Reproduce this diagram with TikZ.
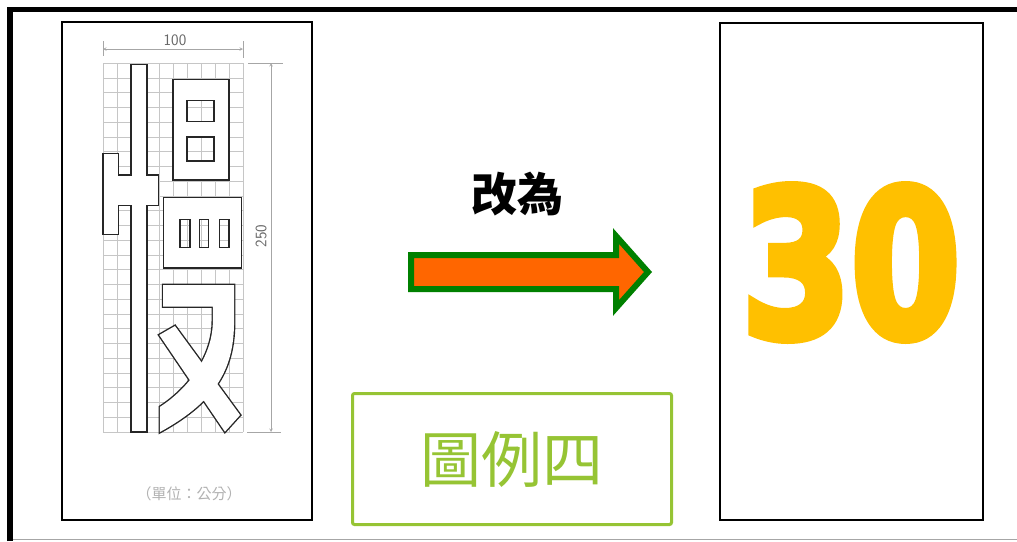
\documentclass[tikz,border=0pt]{standalone}
\usepackage{fontspec}
\usepackage{graphicx}
\newfontfamily\cjk{Noto Sans CJK TC}
\newfontfamily\numfont{DejaVu Sans Bold}[FakeBold=5]
\definecolor{arroworange}{HTML}{FF6600}
\definecolor{arrowgreen}{HTML}{008000}
\definecolor{legendgreen}{RGB}{150,196,52}
\definecolor{speedgold}{HTML}{FFC000}
% strokes of the lower part of the glyph, in grid units
\newcommand{\zhepath}{(4.3,15.05) -- (9.36,15.05) -- (9.36,17.5)
  .. controls (9.36,20.5) and (8.3,22.8) .. (4.07,25) -- (4.07,23.3)
  .. controls (6.5,21.8) and (7.85,19.5) .. (7.85,17.5) -- (7.85,16.5) -- (4.3,16.5) -- cycle}
\newcommand{\napath}{(4.02,18.43) -- (5.14,17.82) -- (9.79,23.85) -- (8.71,24.98) -- cycle}

\begin{document}
\begin{tikzpicture}[>=stealth, x=1pt, y=-1pt,
    gridline/.style={gray!45, line width=0.5pt},
    glyph/.style={draw=black!85, fill=white, line width=1.4pt, line join=miter},
    dimline/.style={gray!70, line width=0.6pt},
    dimlabel/.style={text=gray!80!black, inner sep=0pt, font=\sffamily\fontsize{16}{16}\selectfont}]
  \useasboundingbox (0,0) rectangle (1017,541);
  % outer frame
  \draw[line width=5.5pt] (10,541) -- (10,9.5) -- (1017,9.5);
  \draw[gray!70, line width=1.2pt] (13,539.5) -- (1017,539.5);
  % panels
  \draw[line width=1.5pt] (62,22) rectangle (312,520);
  \draw[line width=1.5pt] (720,23) rectangle (983,520);

  % grid and glyph
  \begin{scope}[shift={(103,63)}, x=14pt, y=-14.76pt]
    \foreach \c in {0,...,10}
      \draw[gridline] (\c,0) -- (\c,25);
    \foreach \r in {0,...,25}
      \draw[gridline] (0,\r) -- (10,\r);
    \filldraw[glyph] (2,0.1) -- (3.15,0.1) -- (3.15,7.6) -- (3.95,7.6) -- (3.95,9.67)
      -- (3.15,9.67) -- (3.15,25) -- (2,25) -- (2,9.67) -- (1.1,9.67) -- (1.1,11.6)
      -- (0,11.6) -- (0,6.12) -- (1.1,6.12) -- (1.1,7.6) -- (2,7.6) -- cycle;
    \filldraw[glyph, even odd rule] (5,1.1) rectangle (9,7.93)
      (6,2.55) rectangle (7.93,3.97) (6,5) rectangle (7.93,6.65);
    \filldraw[glyph, even odd rule] (4.3,9.1) rectangle (9.9,13.9)
      (5.5,10.6) rectangle (6.2,12.5) (6.9,10.6) rectangle (7.55,12.5)
      (8.3,10.6) rectangle (9,12.5);
    \draw[black!85, line width=2.8pt, line join=miter] \zhepath;
    \draw[black!85, line width=2.8pt, line join=miter] \napath;
    \fill[white] \zhepath;
    \fill[white] \napath;
  \end{scope}

  % dimensions
  \draw[dimline,<->] (103,49) -- (243,49);
  \draw[dimline] (103,41) -- (103,56);
  \draw[dimline] (243,41) -- (243,58);
  \node[dimlabel] (hundred) at (175,40) {100};
  \draw[dimline,<->] (271,63) -- (271,432);
  \draw[dimline] (248,63) -- (283,63);
  \draw[dimline] (247,432) -- (281,432);
  \node[dimlabel, rotate=90] (twofifty) at (261,236) {250};
  \node[text=gray!60, font=\cjk\fontsize{15}{15}\selectfont] (unit) at (189,494) {（單位：公分）};

  % middle
  \node[font=\cjk\bfseries\fontsize{46}{46}\selectfont] (gaiwei) at (517,194) {改為};
  \filldraw[fill=arroworange, draw=arrowgreen, line width=6pt, line join=miter]
    (411,255) -- (616,255) -- (616,236) -- (648,272) -- (616,308) -- (616,289) -- (411,289) -- cycle;
  \node[draw=legendgreen, line width=3pt, rounded corners=2pt, minimum width=319pt,
    minimum height=131pt, inner sep=0pt, text=legendgreen,
    font=\cjk\fontsize{61}{61}\selectfont] (legend) at (512,459) {圖例四};

  % right
  \node[text=speedgold, inner sep=0pt] (speed) at (851,262.5) {\resizebox{218pt}{150pt}{\numfont 30}};
\end{tikzpicture}
\end{document}
